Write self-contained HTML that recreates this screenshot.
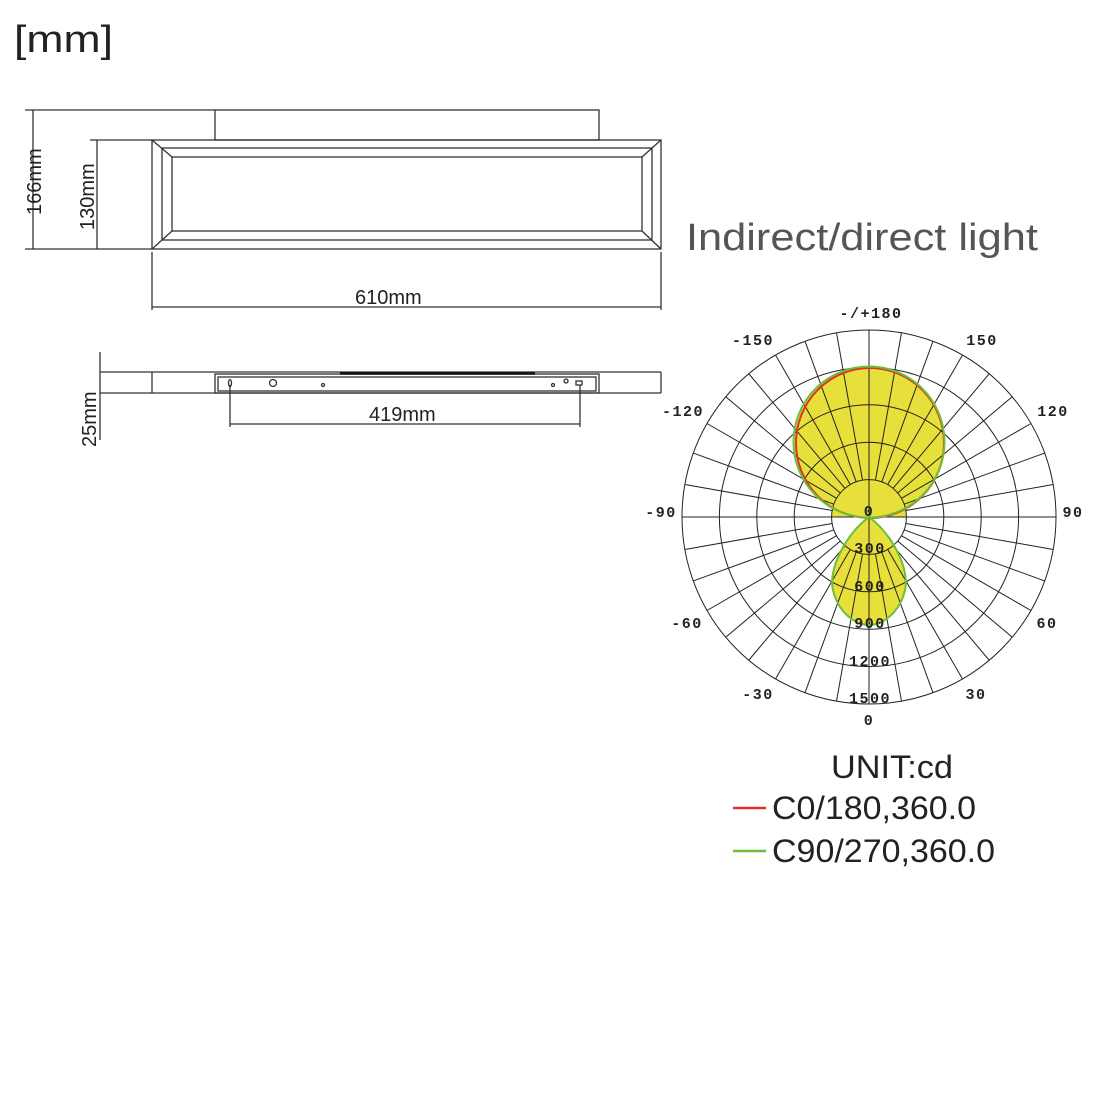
<!DOCTYPE html>
<html><head><meta charset="utf-8"><style>
html,body{margin:0;padding:0;background:#fff;width:1100px;height:1100px;overflow:hidden}
svg{position:absolute;left:0;top:0}
</style></head><body>
<svg id="s" width="1100" height="1100" viewBox="0 0 1100 1100" xmlns="http://www.w3.org/2000/svg">
<text x="14" y="52" font-family="Liberation Sans, sans-serif" font-size="38" fill="#222" textLength="99" lengthAdjust="spacingAndGlyphs">[mm]</text>
<g stroke="#333" stroke-width="1.3" fill="none">
<rect x="215" y="110" width="384" height="30"/>
<rect x="152" y="140" width="509" height="109"/>
<rect x="162" y="148" width="490" height="92"/>
<rect x="172" y="157" width="470" height="74"/>
<line x1="152" y1="140" x2="172" y2="157"/><line x1="661" y1="140" x2="642" y2="157"/>
<line x1="152" y1="249" x2="172" y2="231"/><line x1="661" y1="249" x2="642" y2="231"/>
<line x1="25" y1="110" x2="215" y2="110"/><line x1="25" y1="249" x2="152" y2="249"/>
<line x1="90" y1="140" x2="152" y2="140"/>
<line x1="33" y1="110" x2="33" y2="249"/><line x1="97" y1="140" x2="97" y2="249"/>
<line x1="152" y1="252" x2="152" y2="310"/><line x1="661" y1="252" x2="661" y2="310"/>
<line x1="152" y1="307" x2="661" y2="307"/>
<line x1="100" y1="372" x2="661" y2="372"/><line x1="100" y1="393" x2="661" y2="393"/>
<line x1="152" y1="372" x2="152" y2="393"/><line x1="661" y1="372" x2="661" y2="393"/>
<rect x="215" y="374" width="384" height="19"/>
<rect x="218" y="377" width="378" height="14"/>
<line x1="100" y1="352" x2="100" y2="440"/>
<line x1="230" y1="385" x2="230" y2="427"/><line x1="580" y1="385" x2="580" y2="427"/>
<line x1="230" y1="424" x2="580" y2="424"/>
<ellipse cx="230" cy="383" rx="1.5" ry="3.5"/><circle cx="273" cy="383" r="3.5"/>
<circle cx="323" cy="385" r="1.5"/><circle cx="553" cy="385" r="1.5"/><circle cx="566" cy="381" r="2"/>
<rect x="576" y="381" width="6" height="4"/>
</g>
<line x1="340" y1="373.5" x2="535" y2="373.5" stroke="#111" stroke-width="2.5"/>
<g font-family="Liberation Sans, sans-serif" font-size="20" fill="#222">
<text x="355" y="304">610mm</text>
<text x="369" y="421">419mm</text>
<text transform="translate(41,215) rotate(-90)">166mm</text>
<text transform="translate(94,230) rotate(-90)">130mm</text>
<text transform="translate(96,447) rotate(-90)">25mm</text>
</g>
<text x="686" y="250" font-family="Liberation Sans, sans-serif" font-size="38" fill="#555" textLength="352" lengthAdjust="spacingAndGlyphs">Indirect/direct light</text>
<path d="M832,517 A37,37 0 0 1 906,517 Z" fill="#e8e03a"/>
<circle cx="869" cy="442" r="75" fill="#e8e03a"/>
<path d="M869,517 C845,535 828,570 833,590 C838,612 855,625 869,625 C883,625 900,612 905,590 C910,570 893,535 869,517 Z" fill="#e8e03a"/>
<g id="grid" stroke="#222" stroke-width="1" fill="none">
<circle cx="869" cy="517" r="37.4"/><circle cx="869" cy="517" r="74.8"/><circle cx="869" cy="517" r="112.2"/>
<circle cx="869" cy="517" r="149.6"/><circle cx="869" cy="517" r="187"/>
<line x1="682" y1="517" x2="1056" y2="517"/><line x1="869" y1="330" x2="869" y2="704"/>
</g>
<ellipse cx="870" cy="443" rx="74" ry="75" fill="none" stroke="#e03030" stroke-width="2"/>
<circle cx="869" cy="442" r="75.5" fill="none" stroke="#6bbf3a" stroke-width="2"/>
<path d="M869,517 C845,535 828,570 833,590 C838,612 855,625 869,625 C883,625 900,612 905,590 C910,570 893,535 869,517 Z" fill="none" stroke="#6bbf3a" stroke-width="2"/>
<g font-family="Liberation Mono, monospace" font-weight="bold" font-size="15" fill="#222" text-anchor="middle" letter-spacing="1.5">
<text x="871" y="318">-/+180</text><text x="753" y="345">-150</text><text x="982" y="345">150</text>
<text x="683" y="416">-120</text><text x="1053" y="416">120</text><text x="661" y="517">-90</text><text x="1073" y="517">90</text>
<text x="687" y="628">-60</text><text x="1047" y="628">60</text><text x="758" y="699">-30</text><text x="976" y="699">30</text>
<text x="869" y="725">0</text>
<text x="869" y="516">0</text><text x="870" y="553">300</text><text x="870" y="591">600</text><text x="870" y="628">900</text>
<text x="870" y="666">1200</text><text x="870" y="703">1500</text>
</g>
<g font-family="Liberation Sans, sans-serif" font-size="32" fill="#222">
<text x="831" y="778" textLength="122" lengthAdjust="spacingAndGlyphs">UNIT:cd</text>
<text x="772" y="819" textLength="204" lengthAdjust="spacingAndGlyphs">C0/180,360.0</text>
<text x="772" y="862" textLength="223" lengthAdjust="spacingAndGlyphs">C90/270,360.0</text>
</g>
<line x1="733" y1="808" x2="766" y2="808" stroke="#e03030" stroke-width="2.5"/>
<line x1="733" y1="851" x2="766" y2="851" stroke="#6bbf3a" stroke-width="2.5"/>
</svg>
<script>
var g=document.getElementById('grid'),cx=869,cy=517;
for(var a=0;a<360;a+=10){if(a%90==0)continue;var t=a*Math.PI/180;
var l=document.createElementNS('http://www.w3.org/2000/svg','line');
l.setAttribute('x1',cx+37.4*Math.cos(t));l.setAttribute('y1',cy+37.4*Math.sin(t));
l.setAttribute('x2',cx+187*Math.cos(t));l.setAttribute('y2',cy+187*Math.sin(t));g.appendChild(l);}
</script>
</body></html>
